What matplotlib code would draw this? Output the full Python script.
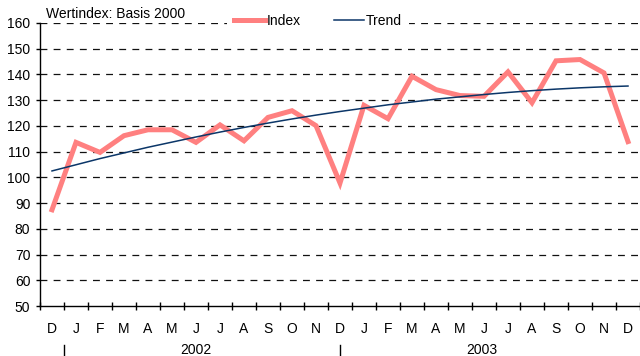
import numpy as np
import matplotlib.pyplot as plt
from matplotlib.lines import Line2D

plt.rcParams['font.family'] = ['Liberation Sans', 'DejaVu Sans']

# monthly values, Dec 2001 .. Dec 2003
months = ['D', 'J', 'F', 'M', 'A', 'M', 'J', 'J', 'A', 'S', 'O', 'N',
          'D', 'J', 'F', 'M', 'A', 'M', 'J', 'J', 'A', 'S', 'O', 'N', 'D']
index_vals = [87.4, 113.6, 109.7, 116.2, 118.5, 118.5, 113.6, 120.4, 114.2, 123.3, 125.9, 120.1,
              97.8, 128.0, 122.8, 139.3, 134.1, 131.8, 131.5, 141.0, 129.0, 145.3, 145.8, 140.6, 113.9]
trend_vals = [102.5, 104.9, 107.3, 109.5, 111.7, 113.7, 115.7, 117.6, 119.4, 121.1, 122.7, 124.2,
              125.6, 126.9, 128.2, 129.3, 130.4, 131.3, 132.2, 133.0, 133.7, 134.3, 134.8, 135.2, 135.5]
years = ['2002', '2003']
year_pos = [6.0, 17.9]
year_sep = [0.5, 12.0]

x = np.arange(len(months))
fs = 10

fig = plt.figure(figsize=(6.4, 3.56), dpi=100)
ax = fig.add_axes([40 / 640, 1 - 306 / 356, 600 / 640, 283 / 356])

ax.set_ylim(50, 160)
ax.set_xlim(-0.5, len(months) - 0.5)
ax.set_yticks(np.arange(50, 161, 10))
for v in np.arange(60, 161, 10):
    ax.axhline(v, color='#111111', lw=0.9, dashes=(5.5, 5), zorder=1)

ax.plot(x, index_vals, color='#ff8080', lw=3.6, solid_joinstyle='miter', zorder=3)
ax.plot(x, trend_vals, color='#0b3668', lw=1.1, zorder=4)

for s in ['top', 'right']:
    ax.spines[s].set_visible(False)
for s in ['left', 'bottom']:
    ax.spines[s].set_color('#000000')
    ax.spines[s].set_linewidth(1.0)

ax.tick_params(axis='y', direction='out', length=3, width=1, pad=4, labelsize=fs)
ax.set_xticks(np.arange(-0.5, len(months), 1.0))
ax.set_xticklabels([])
ax.tick_params(axis='x', which='major', direction='inout', length=6, width=1)
ax.set_xticks(x, minor=True)
ax.set_xticklabels(months, minor=True)
ax.tick_params(axis='x', which='minor', length=0, pad=11.5, labelsize=fs)

trans = ax.get_xaxis_transform()
for xs in year_sep:
    ax.plot([xs, xs], [-0.138, -0.173], color='#000000', lw=1, transform=trans, clip_on=False)
for xp, lab in zip(year_pos, years):
    ax.text(xp, -0.155, lab, transform=trans, ha='center', va='center', fontsize=fs)

fig.text(46 / 640, 1 - 14 / 356, 'Wertindex: Basis 2000', ha='left', va='center', fontsize=fs)

handles = [Line2D([], [], color='#ff8080', lw=3.6), Line2D([], [], color='#0b3668', lw=1.1)]
leg = fig.legend(handles, ['Index', 'Trend'], loc='center', bbox_to_anchor=(318 / 640, 1 - 21 / 356),
                 ncol=2, frameon=True, fancybox=False, edgecolor='none', facecolor='white',
                 framealpha=1, fontsize=fs, handlelength=2.2, handletextpad=0.1,
                 columnspacing=2.4, borderpad=0.5, borderaxespad=0)
leg.set_zorder(5)

fig.savefig('out.png', dpi=100)
